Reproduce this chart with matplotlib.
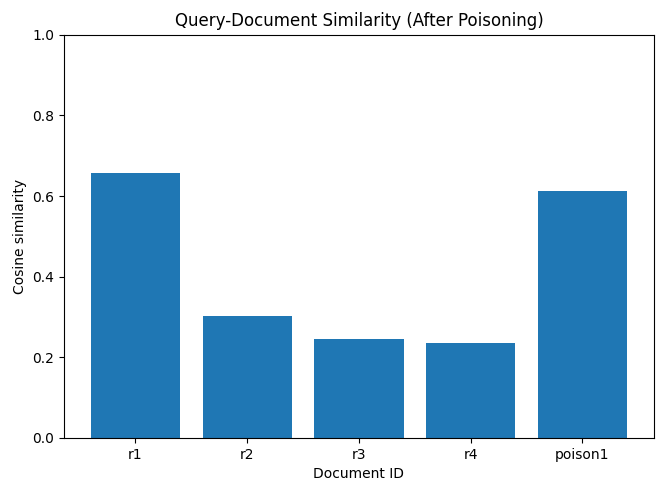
import matplotlib
matplotlib.use("Agg")
import matplotlib.pyplot as plt

doc_ids = ["r1", "r2", "r3", "r4", "poison1"]
similarity = [0.658, 0.303, 0.246, 0.236, 0.612]

fig, ax = plt.subplots(figsize=(6.66, 4.97), dpi=100)
fig.subplots_adjust(left=0.096, right=0.982, top=0.930, bottom=0.119)
ax.bar(doc_ids, similarity, color="#1f77b4")
ax.set_ylim(0, 1.0)
ax.set_title("Query-Document Similarity (After Poisoning)")
ax.set_xlabel("Document ID")
ax.set_ylabel("Cosine similarity")
fig.savefig("out.png")
